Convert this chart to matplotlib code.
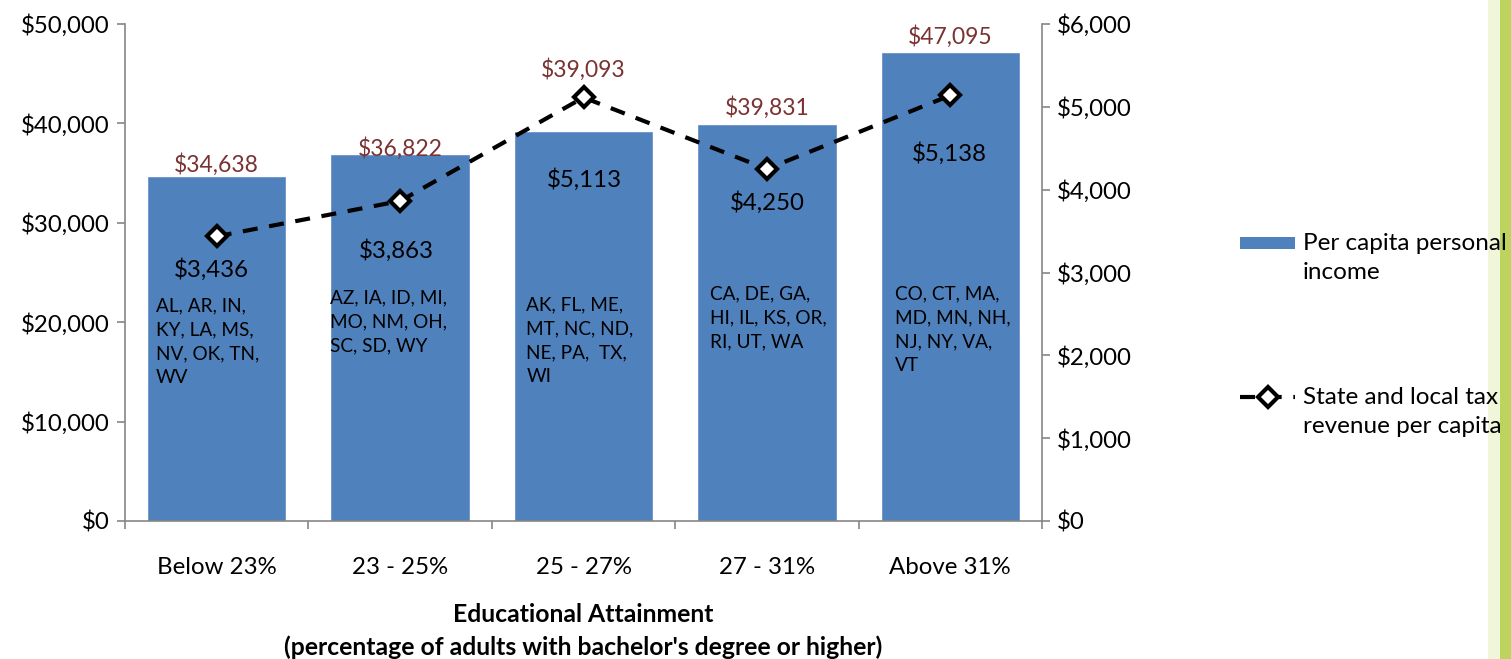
import matplotlib
matplotlib.use("Agg")
import matplotlib.pyplot as plt
from matplotlib.patches import Rectangle
from matplotlib.lines import Line2D
from matplotlib.ticker import FuncFormatter, FixedLocator

plt.rcParams['font.family'] = ['Lato', 'DejaVu Sans']

categories = ["Below 23%", "23 - 25%", "25 - 27%", "27 - 31%", "Above 31%"]
income = [34638, 36822, 39093, 39831, 47095]
tax = [3436, 3863, 5113, 4250, 5138]
states = [
    "AL, AR, IN,\nKY, LA, MS,\nNV, OK, TN,\nWV",
    "AZ, IA, ID, MI,\nMO, NM, OH,\nSC, SD, WY",
    "AK, FL, ME,\nMT, NC, ND,\nNE, PA,  TX,\nWI",
    "CA, DE, GA,\nHI, IL, KS, OR,\nRI, UT, WA",
    "CO, CT, MA,\nMD, MN, NH,\nNJ, NY, VA,\nVT",
]
left_ticks = [0, 10000, 20000, 30000, 40000, 50000]
right_ticks = [0, 1000, 2000, 3000, 4000, 5000, 6000]

# label placement (styling, pixels)
income_label_dy = [12, 6, 63, 18, 16]
tax_label_dx = [-5, -4, 1, 0, -1]
tax_label_dy = [-33, -50, -82, -34, -58]
state_dx = [-0.333, -0.382, -0.311, -0.311, -0.30]
state_top_px = [297, 289, 296, 285, 285]

W, H = 1511, 659
fig = plt.figure(figsize=(W / 100, H / 100), dpi=100)
ax = fig.add_axes([125 / W, (H - 521) / H, (1042 - 125) / W, (521 - 24) / H])
ax2 = ax.twinx()

bar_color = '#4F81BD'
axis_gray = '#868686'
FS = 17.3
DASH = (0, (3.6, 2.8))
x = list(range(len(categories)))
ax.bar(x, income, width=0.75, color=bar_color, edgecolor='#6A93C8', linewidth=0.6, zorder=2)
ax.set_xlim(-0.5, 4.5)
ax.set_ylim(0, 50000)
ax2.set_ylim(0, 6000)
ax.set_yticks(left_ticks)
ax2.set_yticks(right_ticks)
money = FuncFormatter(lambda v, p: "${:,.0f}".format(v))
ax.yaxis.set_major_formatter(money)
ax2.yaxis.set_major_formatter(money)

ax.set_xticks(x)
ax.set_xticklabels(categories)
ax.xaxis.set_minor_locator(FixedLocator([-0.5, 0.5, 1.5, 2.5, 3.5, 4.5]))
ax.tick_params(axis='x', which='major', length=0, pad=26, labelsize=FS)
ax.tick_params(axis='x', which='minor', length=6, color=axis_gray, width=1.2, direction='out')
ax.tick_params(axis='y', length=6, color=axis_gray, width=1.2, labelsize=FS, pad=5)
ax2.tick_params(axis='y', length=6, color=axis_gray, width=1.2, labelsize=FS, pad=5)

for a in (ax, ax2):
    a.spines['top'].set_visible(False)
    for s in ('left', 'right', 'bottom'):
        a.spines[s].set_color(axis_gray)
        a.spines[s].set_linewidth(1.2)
ax.spines['right'].set_visible(False)
ax2.spines['left'].set_visible(False)
ax2.spines['bottom'].set_visible(False)

ax2.plot(x, tax, color='black', linestyle=DASH, linewidth=3, marker='D',
         markersize=10, markerfacecolor='white', markeredgecolor='black',
         markeredgewidth=3, zorder=5)

for i, v in enumerate(income):
    ax.annotate("${:,}".format(v), (i, v), xytext=(0, income_label_dy[i] * 0.72),
                textcoords='offset points', ha='center', va='center',
                color='#7A3232', fontsize=16.5, zorder=6)
for i, v in enumerate(tax):
    ax2.annotate("${:,}".format(v), (i, v),
                 xytext=(tax_label_dx[i] * 0.72, tax_label_dy[i] * 0.72),
                 textcoords='offset points', ha='center', va='center',
                 color='black', fontsize=FS, zorder=6)
for i, s in enumerate(states):
    ytop = (521 - state_top_px[i]) / 497 * 50000
    ax.text(i + state_dx[i], ytop, s, ha='left', va='top', fontsize=13.7,
            linespacing=1.5, color='black', zorder=6)

fig.text(583.5 / W, 1 - 603 / H, "Educational Attainment\n(percentage of adults with bachelor's degree or higher)",
         ha='center', va='top', fontsize=17.8, fontweight='bold', linespacing=1.5)

# legend (drawn manually to match layout)
fig.patches.append(Rectangle((1240 / W, 1 - 249 / H), 55 / W, 12 / H, transform=fig.transFigure,
                             facecolor=bar_color, edgecolor='none'))
fig.lines.append(Line2D([1240 / W, 1295 / W], [1 - 397 / H, 1 - 397 / H], transform=fig.transFigure,
                        color='black', linestyle=DASH, linewidth=3))
fig.lines.append(Line2D([1267.5 / W], [1 - 397 / H], transform=fig.transFigure, marker='D',
                        markersize=10, markerfacecolor='white', markeredgecolor='black',
                        markeredgewidth=3, linestyle='none'))
fig.text(1303 / W, 1 - 233 / H, "Per capita personal\nincome", ha='left', va='top',
         fontsize=17.5, linespacing=1.45)
fig.text(1303 / W, 1 - 387 / H, "State and local tax\nrevenue per capita", ha='left', va='top',
         fontsize=17.5, linespacing=1.45)

# decorative green strip at right edge
fig.patches.append(Rectangle((1488 / W, 0), 12 / W, 1, transform=fig.transFigure,
                             facecolor='#F1F5DA', edgecolor='none', zorder=-1))
fig.patches.append(Rectangle((1500 / W, 0), 11 / W, 1, transform=fig.transFigure,
                             facecolor='#BCD45E', edgecolor='none', zorder=-1))

fig.savefig("out.png", dpi=100)
